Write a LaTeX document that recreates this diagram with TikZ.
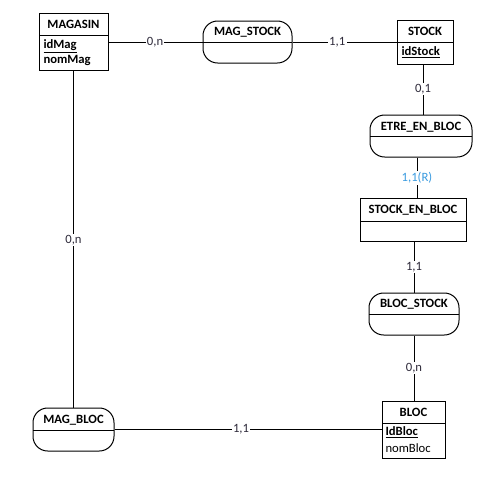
\documentclass[tikz,border=0pt]{standalone}
\usepackage{fontspec}
\setmainfont{Carlito}
\begin{document}
\begin{tikzpicture}[x=0.75pt,y=-0.75pt,
  font=\fontsize{9.5}{11}\selectfont,
  line width=0.75pt,
  ent/.style={draw, rectangle, inner sep=0pt},
  asso/.style={draw, rectangle, rounded corners=11pt, inner sep=0pt},
  ttl/.style={anchor=base, inner sep=0pt, font=\fontsize{9.5}{11}\selectfont\bfseries},
  attr/.style={anchor=base west, inner sep=0pt},
  card/.style={fill=white, inner sep=1pt, text=cardcol},
  cardr/.style={fill=white, inner sep=1pt, text=cardblue}
]
\definecolor{cardcol}{HTML}{2E2A3A}
\definecolor{cardblue}{HTML}{3A9BE0}
\useasboundingbox (0,0) rectangle (501,476);

% MAGASIN
\node[ent, minimum width=51.75pt, minimum height=42.75pt] (magasin) at (73.5,41.5) {};
\draw (39,35) -- (108,35);
\node[ttl] (tmagasin) at (73.5,28) {MAGASIN};
\node[attr] (aidmag) at (43,48) {\bfseries\underline{idMag}};
\node[attr] (anommag) at (43,63) {\bfseries nomMag};

% MAG_STOCK
\node[asso, minimum width=66.75pt, minimum height=31.5pt] (magstock) at (247.5,42) {};
\draw (203,42) -- (292,42);
\node[ttl] (tmagstock) at (247.5,35) {MAG\_STOCK};

% STOCK
\node[ent, minimum width=42pt, minimum height=33pt] (stock) at (425,42) {};
\draw (397,42) -- (453,42);
\node[ttl] (tstock) at (425,35) {STOCK};
\node[attr] (aidstock) at (401,55) {\bfseries\underline{idStock}};

% ETRE_EN_BLOC
\node[asso, minimum width=76.5pt, minimum height=31.5pt] (etre) at (421,136) {};
\draw (370,136) -- (472,136);
\node[ttl] (tetre) at (421,130) {ETRE\_EN\_BLOC};

% STOCK_EN_BLOC
\node[ent, minimum width=79.5pt, minimum height=32.25pt] (seb) at (413,219.5) {};
\draw (360,221) -- (466,221);
\node[ttl] (tseb) at (413,213) {STOCK\_EN\_BLOC};

% BLOC_STOCK
\node[asso, minimum width=67.5pt, minimum height=31.5pt] (blocstock) at (414,314) {};
\draw (369,314) -- (459,314);
\node[ttl] (tblocstock) at (414,307) {BLOC\_STOCK};

% BLOC
\node[ent, minimum width=47.25pt, minimum height=42.75pt] (bloc) at (413.5,429.5) {};
\draw (382,423) -- (445,423);
\node[ttl] (tbloc) at (413.5,416) {BLOC};
\node[attr] (aidbloc) at (385,435) {\bfseries\underline{IdBloc}};
\node[attr] (anombloc) at (385,452) {nomBloc};

% MAG_BLOC
\node[asso, minimum width=60.75pt, minimum height=32.25pt] (magbloc) at (73.5,429.5) {};
\draw (33,430) -- (114,430);
\node[ttl] (tmagbloc) at (73.5,423) {MAG\_BLOC};

% connectors
\draw (magasin.east |- magstock.west) -- node[card, pos=0.495] (c1) {0,n} (magstock.west);
\draw (magstock.east) -- node[card, pos=0.43] (c2) {1,1} (stock.west);
\draw ([xshift=-1.5pt]stock.south) -- node[card, pos=0.49] (c3) {0,1} ([xshift=-1.5pt]stock.south |- etre.north);
\draw ([xshift=-3pt]etre.south) -- node[cardr, pos=0.51] (c4) {1,1(R)} ([xshift=-3pt]etre.south |- seb.north);
\draw (seb.south -| blocstock.north) -- node[card, pos=0.5] (c5) {1,1} (blocstock.north);
\draw (blocstock.south) -- node[card, pos=0.5] (c6) {0,n} (blocstock.south |- bloc.north);
\draw (magbloc.east) -- node[card, pos=0.474] (c7) {1,1} (magbloc.east -| bloc.west);
\draw (magasin.south) -- node[card, pos=0.503] (c8) {0,n} (magbloc.north);
\end{tikzpicture}
\end{document}
